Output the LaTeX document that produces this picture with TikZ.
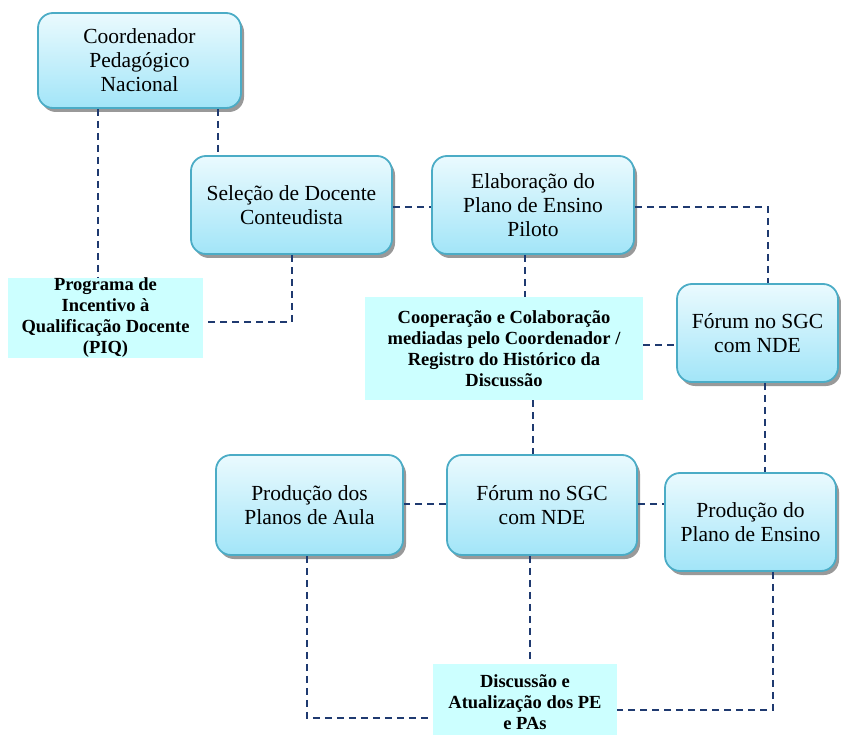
\documentclass[tikz,border=0pt]{standalone}
\usepackage{fontspec}
\setmainfont{Liberation Serif}
\usetikzlibrary{shadows}
\definecolor{boxedge}{HTML}{4BACC6}
\definecolor{boxtop}{HTML}{EAFAFE}
\definecolor{boxbot}{HTML}{A2E5F8}
\definecolor{notefill}{HTML}{CCFFFF}
\definecolor{linkcol}{HTML}{1F3A70}
\tikzset{
  rbox/.style={draw=boxedge, line width=1.8pt, rounded corners=15pt,
    top color=boxtop, bottom color=boxbot, align=center,
    font=\fontsize{21.5}{24}\selectfont, inner sep=0pt,
    drop shadow={shadow xshift=3pt, shadow yshift=-4pt, fill=black, opacity=0.4}},
  notebox/.style={fill=notefill, align=center, inner sep=0pt,
    font=\bfseries\fontsize{18.5}{21}\selectfont},
  link/.style={draw=linkcol, line width=2.2pt, dash pattern=on 7pt off 5pt}
}
\begin{document}
\begin{tikzpicture}[x=1pt,y=-1pt]
\useasboundingbox (0,0) rectangle (841,735);
% rounded process boxes
\node[rbox, minimum width=203, minimum height=95] (coord) at (139.5,60.5) {Coordenador\\Pedagógico\\Nacional};
\node[rbox, minimum width=201, minimum height=98] (sel) at (291.5,205) {Seleção de Docente\\Conteudista};
\node[rbox, minimum width=202, minimum height=98] (elab) at (533,205) {Elaboração do\\Plano de Ensino\\Piloto};
\node[rbox, minimum width=161, minimum height=98] (forR) at (757.5,333) {Fórum no SGC\\com NDE};
\node[rbox, minimum width=171, minimum height=98] (prodPE) at (750.5,522) {Produção do\\Plano de Ensino};
\node[rbox, minimum width=190, minimum height=100] (forM) at (542,505) {Fórum no SGC\\com NDE};
\node[rbox, minimum width=187, minimum height=100] (prodPA) at (309.5,505) {Produção dos\\Planos de Aula};
% flat note boxes
\node[notebox, minimum width=195, minimum height=78] (piq) at (105.5,318) {Programa de\\Incentivo à\\Qualificação Docente\\(PIQ)};
\node[notebox, minimum width=278, minimum height=103] (coop) at (504,348.5) {Cooperação e Colaboração\\mediadas pelo Coordenador /\\Registro do Histórico da\\Discussão};
\node[notebox, minimum width=184, minimum height=76] (disc) at (525,702) {Discussão e\\Atualização dos PE\\e PAs};
% reference columns and rows for the connectors
\coordinate (x98) at (98,0);
\coordinate (x218) at (218,0);
\coordinate (x292) at (292,0);
\coordinate (x525) at (525,0);
\coordinate (x533) at (533,0);
\coordinate (x530) at (530,0);
\coordinate (x765) at (765,0);
\coordinate (x768) at (768,0);
\coordinate (x307) at (307,0);
\coordinate (x773) at (773,0);
\coordinate (y207) at (0,207);
\coordinate (y322) at (0,322);
\coordinate (y345) at (0,345);
\coordinate (y504) at (0,504);
\coordinate (y710) at (0,710);
\coordinate (y718) at (0,718);
% dashed connectors
\draw[link] (coord.south -| x98) -- (piq.north -| x98);
\draw[link] (coord.south -| x218) -- (sel.north -| x218);
\draw[link] (sel.south -| x292) |- (piq.east |- y322);
\draw[link] (sel.east |- y207) -- (elab.west |- y207);
\draw[link] (elab.east |- y207) -| (forR.north -| x768);
\draw[link] (elab.south -| x525) -- (coop.north -| x525);
\draw[link] (coop.east |- y345) -- (forR.west |- y345);
\draw[link] (forR.south -| x765) -- (prodPE.north -| x765);
\draw[link] (coop.south -| x533) -- (forM.north -| x533);
\draw[link] (forM.west |- y504) -- (prodPA.east |- y504);
\draw[link] (forM.east |- y504) -- (prodPE.west |- y504);
\draw[link] (forM.south -| x530) -- (disc.north -| x530);
\draw[link] (prodPA.south -| x307) |- (disc.west |- y718);
\draw[link] (prodPE.south -| x773) |- (disc.east |- y710);
\end{tikzpicture}
\end{document}
